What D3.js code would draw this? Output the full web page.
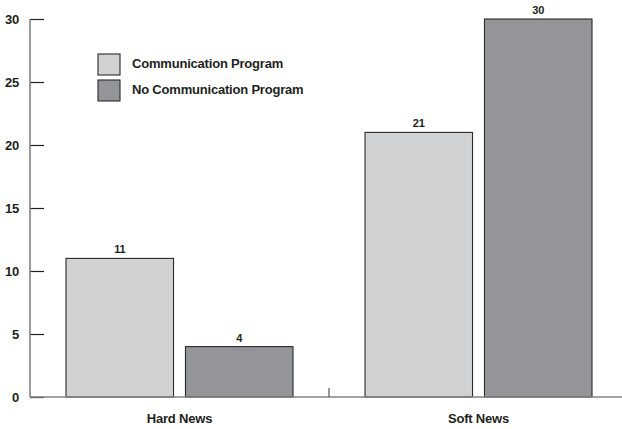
<!DOCTYPE html>
<html>
<head>
<meta charset="utf-8">
<script src="https://cdn.jsdelivr.net/npm/d3@7"></script>
<style>
  html, body { margin: 0; padding: 0; background: #fff; }
  svg text { font-family: "Liberation Sans Narrow", "Arial Narrow", "Liberation Sans", sans-serif; font-weight: bold; fill: #231f20; letter-spacing: -0.2px; }
</style>
</head>
<body>
<svg id="chart" width="622" height="429"></svg>
<script>
// News categories and the two audience groups
const categories = ["Hard News", "Soft News"];
const seriesNames = ["Communication Program", "No Communication Program"];
const commValues = [11, 21];
const noCommValues = [4, 30];
const yTicks = [0, 5, 10, 15, 20, 25, 30];
const seriesColors = ["#d1d2d4", "#939598"];

const rows = categories.map((c, i) => ({ category: c, values: [commValues[i], noCommValues[i]] }));

const svg = d3.select("#chart");
const x0 = 30, yBase = 397, yTop = 19;

const y = d3.scaleLinear().domain([0, 30]).range([yBase, yTop]);
const xGroup = d3.scaleBand().domain(categories).range([x0, 628]).padding(0);
const xBar = d3.scaleBand().domain(seriesNames).range([36, 263]).paddingInner(0.1);

// Bars
const groups = svg.selectAll("g.group").data(rows).join("g")
  .attr("class", "group")
  .attr("transform", d => `translate(${xGroup(d.category)},0)`);

groups.selectAll("rect").data(d => d.values.map((v, i) => ({ name: seriesNames[i], value: v, i })))
  .join("rect")
  .attr("x", d => xBar(d.name))
  .attr("y", d => y(d.value))
  .attr("width", xBar.bandwidth())
  .attr("height", d => yBase - y(d.value))
  .attr("fill", d => seriesColors[d.i])
  .attr("stroke", "#2b2b2b")
  .attr("stroke-width", 1.1);

groups.selectAll("text.val").data(d => d.values.map((v, i) => ({ name: seriesNames[i], value: v })))
  .join("text")
  .attr("class", "val")
  .attr("x", d => xBar(d.name) + xBar.bandwidth() / 2)
  .attr("y", d => y(d.value) - 5)
  .attr("text-anchor", "middle")
  .attr("font-size", 11)
  .text(d => d.value);

// Y axis: gray spine, dark inward ticks
const yAxis = svg.append("g").attr("transform", `translate(${x0},0)`)
  .call(d3.axisRight(y).tickValues(yTicks).tickSize(14).tickFormat(""));
yAxis.select(".domain").remove();
yAxis.selectAll(".tick line").attr("stroke", "#231f20").attr("stroke-width", 1.2);
svg.append("line")
  .attr("x1", x0).attr("x2", x0).attr("y1", yTop).attr("y2", yBase)
  .attr("stroke", "#808285").attr("stroke-width", 1.6);

svg.selectAll("text.ytick").data(yTicks).join("text")
  .attr("class", "ytick")
  .attr("x", 19)
  .attr("y", d => y(d) + 5)
  .attr("text-anchor", "end")
  .attr("font-size", 13)
  .text(d => d);

// X axis baseline with the group divider tick
svg.append("line")
  .attr("x1", x0).attr("x2", 622).attr("y1", yBase).attr("y2", yBase)
  .attr("stroke", "#808285").attr("stroke-width", 1.6);
svg.append("line")
  .attr("x1", xGroup(categories[1])).attr("x2", xGroup(categories[1]))
  .attr("y1", yBase - 9).attr("y2", yBase)
  .attr("stroke", "#555").attr("stroke-width", 1.2);

svg.selectAll("text.cat").data(categories).join("text")
  .attr("class", "cat")
  .attr("x", d => xGroup(d) + (36 + 263) / 2)
  .attr("y", 423)
  .attr("text-anchor", "middle")
  .attr("font-size", 13)
  .text(d => d);

// Legend
const legend = svg.append("g").attr("transform", "translate(98,54)");
const li = legend.selectAll("g").data(seriesNames).join("g")
  .attr("transform", (d, i) => `translate(0,${i * 26})`);
li.append("rect").attr("width", 22).attr("height", 21)
  .attr("fill", (d, i) => seriesColors[i])
  .attr("stroke", "#2b2b2b").attr("stroke-width", 1.1);
li.append("text").attr("x", 34).attr("y", 14).attr("font-size", 13).text(d => d);
</script>
</body>
</html>
